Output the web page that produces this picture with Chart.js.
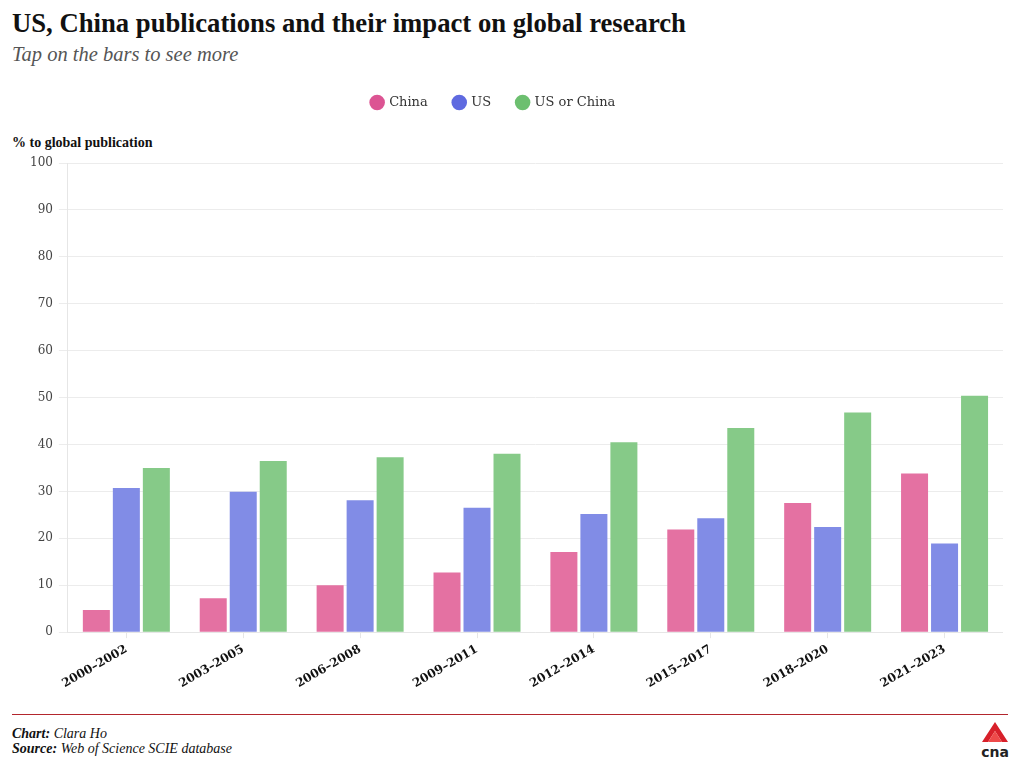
<!DOCTYPE html>
<html>
<head>
<meta charset="utf-8">
<script src="https://cdn.jsdelivr.net/npm/chart.js@4.4.1/dist/chart.umd.min.js"></script>
<style>
  body { margin: 0; background: #fff; width: 1020px; height: 771px; position: relative; overflow: hidden; font-family: "DejaVu Serif", serif; }
  #title { position: absolute; left: 12px; top: 8px; font: bold 26.7px "Liberation Serif", serif; color: #111; }
  #subtitle { position: absolute; left: 12px; top: 43px; font: italic 20.5px "Liberation Serif", serif; color: #555; }
  #ytitle { position: absolute; left: 12px; top: 135px; font: bold 14px "Liberation Serif", serif; color: #111; }
  #wrap { position: absolute; left: 0; top: 64px; width: 1003px; height: 631px; }
  #rule { position: absolute; left: 12px; top: 714px; width: 996px; height: 1px; background: #b3262d; }
  .foot { position: absolute; left: 12px; font: italic 14px "Liberation Serif", serif; color: #111; }
  .foot b { font-weight: bold; }
  #logo { position: absolute; left: 978px; top: 720px; }
</style>
</head>
<body>
<div id="title">US, China publications and their impact on global research</div>
<div id="subtitle">Tap on the bars to see more</div>
<div id="ytitle">% to global publication</div>
<div id="wrap"><canvas id="chart"></canvas></div>
<div id="rule"></div>
<div class="foot" style="top:726px"><b>Chart:</b> Clara Ho</div>
<div class="foot" style="top:741px"><b>Source:</b> Web of Science SCIE database</div>
<svg id="logo" width="34" height="40" viewBox="0 0 34 40">
  <polygon points="17,2 30,22 24,22 17,11 10,22 4,22" fill="#d8202a"/>
  <polygon points="17,11 24,22 10,22" fill="#ee4a4a"/>
  <text x="17" y="37" text-anchor="middle" font-family="DejaVu Sans" font-weight="bold" font-size="14" fill="#222">cna</text>
</svg>
<script>
const periods = ['2000–2002', '2003–2005', '2006–2008', '2009–2011', '2012–2014', '2015–2017', '2018–2020', '2021–2023'];
const china = [4.7, 7.2, 10.0, 12.7, 17.1, 21.9, 27.5, 33.8];
const us = [30.7, 29.9, 28.1, 26.5, 25.2, 24.3, 22.4, 18.9];
const usOrChina = [35.0, 36.5, 37.3, 38.0, 40.5, 43.5, 46.8, 50.4];
const legendColors = ['#dc5493', '#5f6ae0', '#6cbf6f'];

// push plot down below legend, and nudge legend a bit left like the original
const legendGap = {
  id: 'legendGap',
  beforeInit(chart) {
    const fit = chart.legend.fit;
    chart.legend.fit = function () {
      fit.bind(chart.legend)();
      this.height += 44;
    };
  },
  afterLayout(chart) {
    chart.legend.left -= 20;
    chart.legend.right -= 20;
  }
};

const serif = "'DejaVu Serif', serif";

new Chart(document.getElementById('chart'), {
  type: 'bar',
  data: {
    labels: periods,
    datasets: [
      { label: 'China', data: china, backgroundColor: '#e471a2' },
      { label: 'US', data: us, backgroundColor: '#818ce6' },
      { label: 'US or China', data: usOrChina, backgroundColor: '#86ca88' }
    ]
  },
  options: {
    responsive: true,
    maintainAspectRatio: false,
    animation: false,
    categoryPercentage: 0.77,
    barPercentage: 0.9,
    layout: { padding: { left: 24, right: 0, top: 6, bottom: 0 } },
    plugins: {
      legend: {
        labels: {
          usePointStyle: true,
          boxWidth: 11,
          boxHeight: 11,
          padding: 26,
          color: '#333',
          font: { family: serif, size: 13 },
          generateLabels(chart) {
            return chart.data.datasets.map((d, i) => ({
              text: d.label, fillStyle: legendColors[i], strokeStyle: legendColors[i], lineWidth: 0,
              pointStyle: 'circle', datasetIndex: i, hidden: false, fontColor: '#333'
            }));
          }
        }
      }
    },
    scales: {
      x: {
        grid: { display: true, drawOnChartArea: false, offset: false, tickLength: 6, color: '#e6e6e6' },
        border: { color: '#e6e6e6' },
        ticks: { maxRotation: 30, minRotation: 30, color: '#111', font: { family: serif, size: 12, weight: 'bold' }, padding: 4 }
      },
      y: {
        min: 0, max: 100,
        grid: { color: '#ececec', tickLength: 9 },
        border: { color: '#e6e6e6' },
        ticks: { stepSize: 10, color: '#444', font: { family: serif, size: 12 }, padding: 6 }
      }
    }
  },
  plugins: [legendGap]
});
</script>
</body>
</html>
